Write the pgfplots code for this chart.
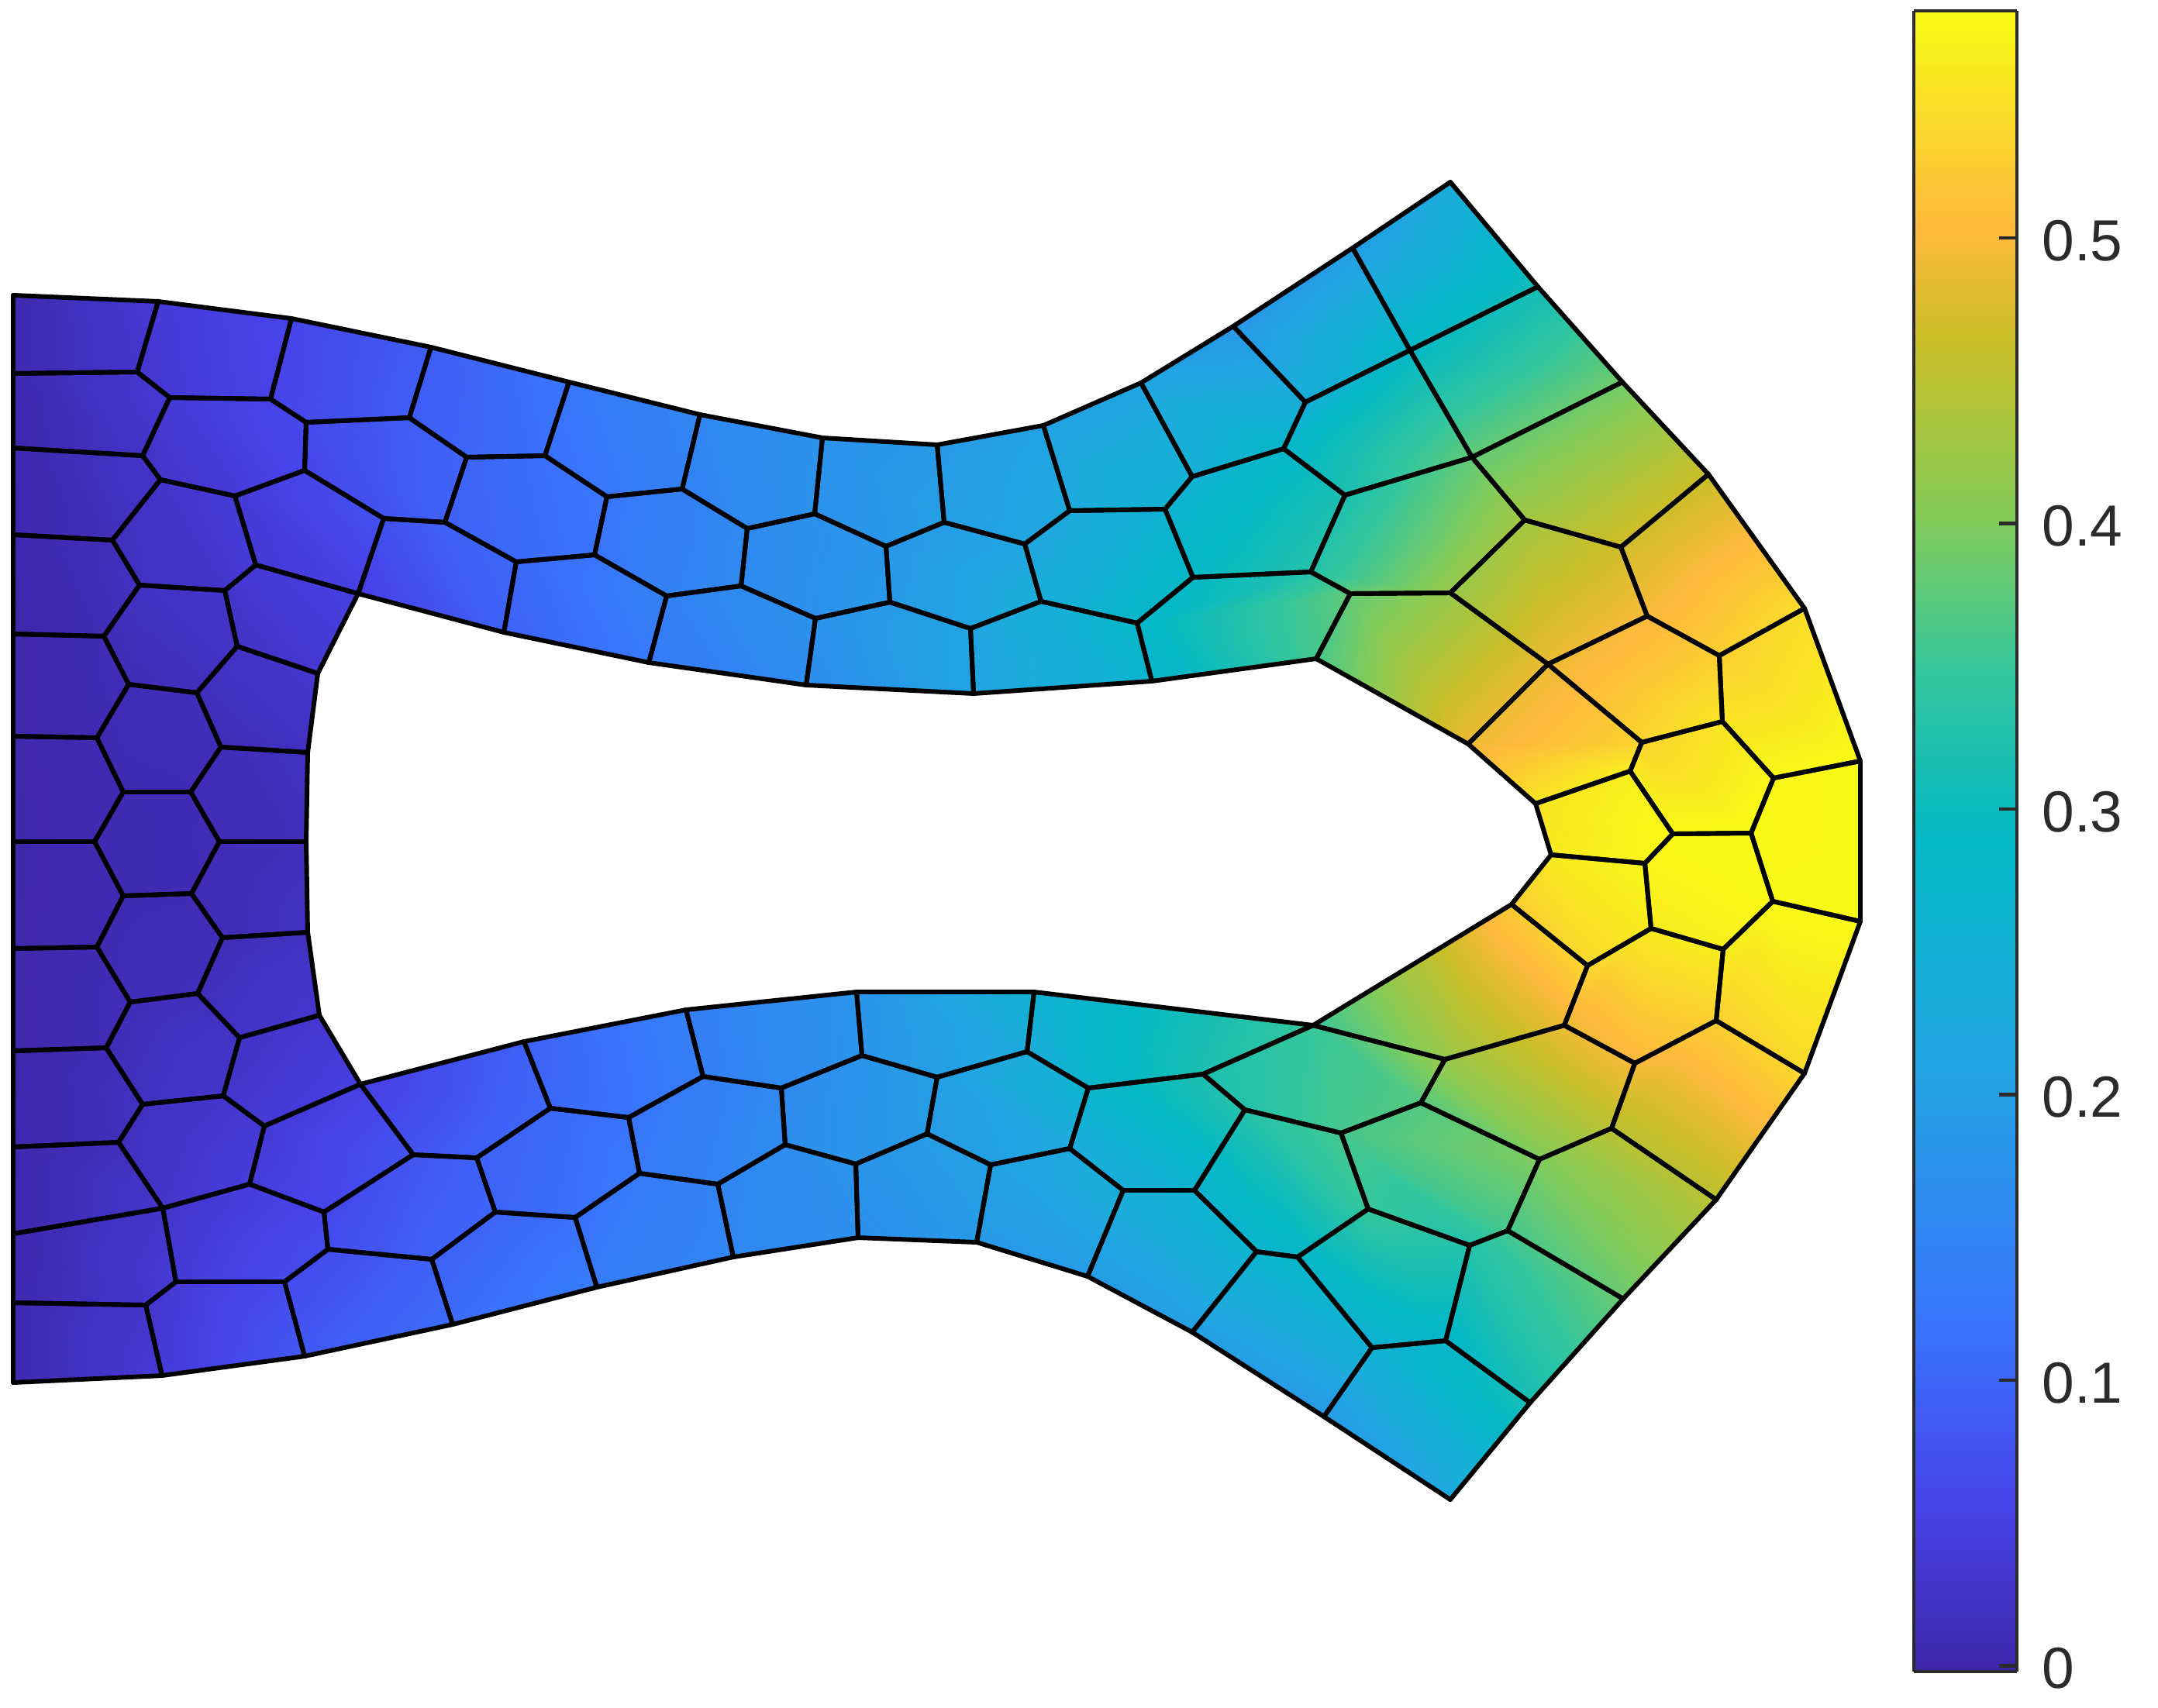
\documentclass[border=0pt]{standalone}
\usepackage{fontspec}
\setmainfont{Liberation Sans}
\usepackage{pgfplots}
\usepackage{pgfplotstable}
\pgfplotsset{compat=1.18}
\usepgfplotslibrary{patchplots}
\definecolor{axgray}{HTML}{2B2B2B}

% colormap
\pgfplotsset{colormap={bar}{
  rgb255(0pt)=(62,38,168) rgb255(10pt)=(71,66,232) rgb255(20pt)=(58,112,254)
  rgb255(30pt)=(44,145,236) rgb255(40pt)=(28,172,220) rgb255(50pt)=(3,184,198)
  rgb255(60pt)=(50,198,158) rgb255(70pt)=(135,204,87) rgb255(80pt)=(200,190,40)
  rgb255(87pt)=(255,186,60) rgb255(93pt)=(250,215,45) rgb255(100pt)=(249,251,21)}}

% mesh vertices in image pixels, c = nodal value
\pgfplotstableread{
id x y c
0 17 381 .005
1 17 482 .005
2 17 578 .003
3 17 690 .002
4 17 818 .001
5 17 950 .001
6 17 1086 0
7 17 1224 .001
8 17 1356 .001
9 17 1480 .002
10 17 1592 .003
11 17 1681 .005
12 17 1784 .005
13 204 389 .04
14 177 480 .03
15 219 513 .04
16 184 588 .025
17 207 619 .03
18 145 697 .015
19 180 755 .02
20 134 821 .01
21 166 883 .012
22 125 952 .007
23 159 1022 .008
24 122 1086 .006
25 159 1156 .008
26 125 1222 .007
27 168 1293 .012
28 137 1352 .01
29 184 1425 .02
30 153 1474 .015
31 210 1559 .03
32 188 1684 .03
33 227 1654 .04
34 209 1775 .04
35 303 640 .04
36 290 762 .03
37 254 894 .015
38 246 1022 .009
39 247 1153 .009
40 255 1282 .015
41 288 1414 .03
42 322 1528 .045
43 349 515 .055
44 376 411 .06
45 393 607 .06
46 395 545 .065
47 330 729 .04
48 306 834 .025
49 285 964 .012
50 283 1086 .01
51 287 1210 .012
52 309 1339 .025
53 341 1453 .04
54 462 766 .05
55 410 869 .035
56 397 971 .02
57 395 1086 .015
58 397 1203 .02
59 412 1310 .035
60 465 1399 .05
61 556 448 .09
62 528 539 .09
63 495 669 .075
64 574 674 .095
65 602 590 .10
66 734 493 .125
67 703 588 .115
68 783 641 .125
69 666 725 .105
70 767 716 .12
71 650 816 .095
72 860 769 .145
73 880 631 .145
74 903 535 .155
75 964 682 .16
76 956 756 .16
77 837 855 .13
78 1061 565 .175
79 1051 663 .175
80 1143 705 .185
81 1052 798 .175
82 1148 777 .19
83 1040 884 .165
84 1209 574 .19
85 1218 674 .2
86 1322 702 .215
87 1252 811 .215
88 1343 776 .24
89 1256 895 .215
90 1346 549 .21
91 1380 659 .225
92 1503 657 .26
93 1538 615 .25
94 1472 494 .215
95 1591 421 .185
96 1684 519 .24
97 1656 579 .28
98 1539 745 .29
99 1467 804 .28
100 1486 879 .27
101 1691 738 .33
102 1735 639 .32
103 1698 850 .36
104 1742 766 .38
105 1871 765 .42
106 1967 671 .43
107 1899 590 .38
108 1819 452 .29
109 1745 320 .2
110 1871 235 .23
111 1984 370 .31
112 2093 493 .39
113 2204 612 .465
114 2091 706 .47
115 1997 857 .49
116 2125 795 .5
117 2218 846 .53
118 2328 785 .545
119 2222 931 .555
120 2118 958 .535
121 1894 960 .49
122 2103 995 .565
123 1981 1037 .555
124 2288 1004 .575
125 2400 982 .578
126 2158 1076 .578
127 2259 1075 .579
128 2001 1103 .56
129 2122 1114 .572
130 1950 1167 .525
131 2048 1246 .54
132 2130 1198 .562
133 2223 1225 .565
134 2287 1163 .577
135 2400 1189 .578
136 2328 1385 .54
137 2214 1317 .53
138 2018 1323 .49
139 2109 1372 .5
140 2214 1548 .45
141 2079 1456 .45
142 1986 1496 .4
143 1864 1367 .42
144 1833 1423 .37
145 1694 1323 .35
146 1552 1386 .32
147 1606 1432 .33
148 1730 1462 .36
149 1765 1560 .35
150 1945 1588 .36
151 1896 1607 .33
152 2094 1676 .385
153 1974 1810 .315
154 1865 1730 .28
155 1770 1739 .255
156 1871 1935 .22
157 1708 1828 .19
158 1674 1622 .28
159 1621 1615 .27
160 1538 1719 .2
161 1541 1536 .26
162 1449 1536 .24
163 1403 1647 .195
164 1380 1482 .225
165 1404 1404 .27
166 1334 1280 .255
167 1325 1357 .23
168 1278 1503 .205
169 1260 1603 .19
170 1209 1390 .2
171 1196 1463 .195
172 1112 1362 .18
173 1105 1280 .18
174 1104 1502 .18
175 1107 1597 .17
176 1013 1477 .165
177 1008 1404 .16
178 926 1528 .15
179 946 1622 .155
180 907 1389 .14
181 885 1303 .14
182 825 1514 .13
183 811 1442 .12
184 770 1661 .135
185 742 1571 .115
186 710 1430 .105
187 676 1344 .095
188 639 1564 .1
189 615 1494 .095
190 584 1709 .11
191 557 1625 .095
192 533 1490 .08
193 423 1612 .07
194 418 1564 .06
195 393 1750 .085
196 367 1654 .065
}\verts

% each cell: fan of triangles for the fill, closed ring of segments for the edges
\gdef\tris{}\gdef\edgs{}
\newcommand\addcell[1]{%
  \gdef\cfirst{}\gdef\cprev{}%
  \foreach \vv in {#1}{%
    \ifx\cfirst\empty
      \xdef\cfirst{\vv}%
    \else
      \ifx\cprev\cfirst\else
        \xdef\tris{\unexpanded\expandafter{\tris}\cfirst\space\cprev\space\vv\noexpand\\}%
      \fi
      \xdef\edgs{\unexpanded\expandafter{\edgs}\cprev\space\vv\noexpand\\}%
    \fi
    \xdef\cprev{\vv}%
  }%
  \xdef\edgs{\unexpanded\expandafter{\edgs}\cprev\space\cfirst\noexpand\\}%
}
\addcell{0,13,14,1}\addcell{1,14,15,16,2}\addcell{2,16,17,18,3}\addcell{3,18,19,20,4}
\addcell{4,20,21,22,5}\addcell{5,22,23,24,6}\addcell{6,24,25,26,7}\addcell{7,26,27,28,8}
\addcell{8,28,29,30,9}\addcell{9,30,31,10}\addcell{10,31,33,32,11}\addcell{11,32,34,12}
\addcell{13,44,43,15,14}\addcell{15,43,46,45,35,17,16}\addcell{17,35,47,36,19,18}
\addcell{19,36,48,37,21,20}\addcell{21,37,49,38,23,22}\addcell{23,38,50,39,25,24}
\addcell{25,39,51,40,27,26}\addcell{27,40,52,41,29,28}\addcell{29,41,53,42,31,30}
\addcell{31,42,194,193,196,33}\addcell{33,196,195,34,32}
\addcell{35,45,63,54,47}\addcell{47,54,55,48,36}\addcell{48,55,56,49,37}\addcell{49,56,57,50,38}
\addcell{50,57,58,51,39}\addcell{51,58,59,52,40}\addcell{52,59,60,53,41}\addcell{53,60,192,194,42}
\addcell{44,61,62,46,43}\addcell{61,66,67,65,62}\addcell{66,74,73,68,67}\addcell{74,78,79,75,73}
\addcell{78,84,85,80,79}\addcell{84,90,91,86,85}\addcell{90,94,93,92,91}\addcell{94,95,96,97,93}
\addcell{95,109,108,96}\addcell{109,110,111,108}
\addcell{46,62,65,64,63,45}\addcell{65,67,68,70,69,64}\addcell{68,73,75,76,72,70}
\addcell{75,79,80,82,81,76}\addcell{80,85,86,88,87,82}\addcell{86,91,92,98,99,88}
\addcell{92,93,97,102,101,98}\addcell{97,96,108,107,102}\addcell{108,111,112,107}
\addcell{63,64,69,71,54}\addcell{69,70,72,77,71}\addcell{72,76,81,83,77}\addcell{81,82,87,89,83}
\addcell{87,88,99,100,89}\addcell{99,98,101,104,103,100}\addcell{101,102,107,106,105,104}
\addcell{107,112,113,114,106}\addcell{104,105,115,121,103}\addcell{106,114,116,115,105}
\addcell{114,113,118,117,116}\addcell{115,116,117,119,120}\addcell{117,118,125,124,119}
\addcell{121,115,120,122,123}\addcell{120,119,124,127,126,122}\addcell{124,125,135,134,127}
\addcell{123,122,126,129,128}\addcell{126,127,134,133,132,129}\addcell{128,129,132,131,130}
\addcell{134,135,136,137,133}\addcell{132,133,137,139,138,131}\addcell{130,131,138,143,145}
\addcell{137,136,140,141,139}\addcell{143,138,139,141,142,144}\addcell{142,141,140,152,150}
\addcell{145,143,144,148,147,146}\addcell{148,144,142,150,151,149}\addcell{151,150,152,153,154}
\addcell{149,151,154,155,158}\addcell{155,154,153,156,157}\addcell{159,158,155,157,160}
\addcell{147,148,149,158,159,161}\addcell{162,161,159,160,163}\addcell{165,146,147,161,162,164}
\addcell{166,145,146,165,167}\addcell{173,166,167,170,172}\addcell{170,167,165,164,168,171}
\addcell{171,168,169,175,174}\addcell{168,164,162,163,169}\addcell{172,170,171,174,176,177}
\addcell{176,174,175,179,178}\addcell{181,173,172,177,180}\addcell{180,177,176,178,182,183}
\addcell{182,178,179,184,185}\addcell{187,181,180,183,186}\addcell{186,183,182,185,188,189}
\addcell{188,185,184,190,191}\addcell{60,187,186,189,192}\addcell{192,189,188,191,193,194}
\addcell{193,191,190,195,196}

\newcommand\fillplot[1]{\addplot[patch, patch type=triangle, shader=interp, point meta=explicit,
    table/row sep=\\, patch table={#1}]
  table[x=x, y=y, meta=c] {\verts};}
\newcommand\edgeplot[1]{\addplot[patch, patch type=line, shader=flat, line width=0.95pt, line join=round, line cap=round,
    colormap={allblack}{color=(black) color=(black)}, point meta=explicit,
    table/row sep=\\, patch table={#1}]
  table[x=x, y=y, meta=c] {\verts};}

\begin{document}
\begin{tikzpicture}
\path[use as bounding box] (0,0) rectangle (15.68cm,12.408cm);
\begin{axis}[
    scale only axis, width=15.68cm, height=12.408cm,
    xmin=0, xmax=2784, ymin=0, ymax=2203,
    y dir=reverse, hide axis, clip=false,
    colormap name=bar,
    point meta min=-0.002, point meta max=0.5795,
    colorbar sampled,
    colorbar style={
      samples=290,
      at={(0.8869,0.0209)}, anchor=south west,
      y dir=normal,
      width=0.749cm, height=12.07cm,
      ytick={0,0.1,0.2,0.3,0.4,0.5},
      yticklabels={0,0.1,0.2,0.3,0.4,0.5},
      ytick pos=right, yticklabel pos=right,
      tick align=inside,
      major tick length=0.13cm,
      line width=0.7pt,
      tick style={axgray, line width=0.7pt},
      axis line style={axgray, line width=0.7pt},
      yticklabel style={font=\fontsize{12}{14}\selectfont, text=axgray, anchor=west, inner xsep=0pt, xshift=0.17cm, yshift=-0.02cm},
    },
]
\expandafter\fillplot\expandafter{\tris}
\expandafter\edgeplot\expandafter{\edgs}
\end{axis}
\end{tikzpicture}
\end{document}
